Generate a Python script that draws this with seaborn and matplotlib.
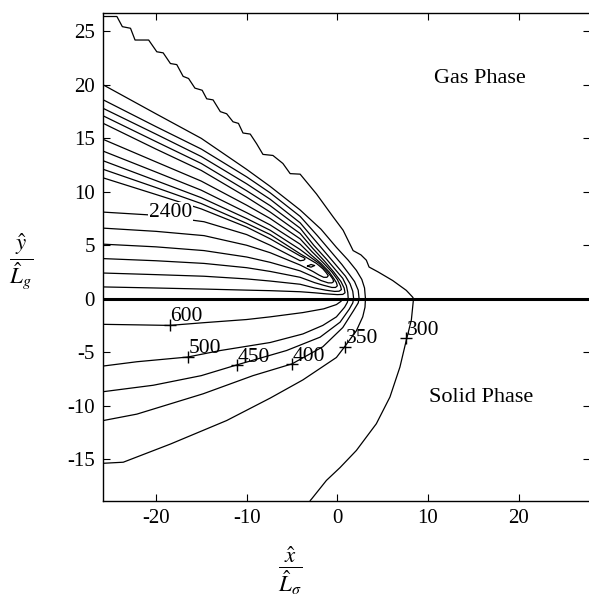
import matplotlib
matplotlib.use("Agg")
import matplotlib.pyplot as plt
import seaborn as sns

# ---------------- data ----------------
# gas-phase outer (300) contour, staircase shape
stair_x = [-25.8, -24.3, -23.7, -22.8, -22.3, -20.8, -19.9, -19.2, -18.4, -17.7, -17.0, -16.4,
           -15.7, -14.9, -14.4, -13.7, -12.9, -12.2, -11.5, -10.9, -10.4, -9.6, -8.9, -8.2,
           -7.1, -6.0, -5.2, -4.1, -2.3, -0.46, 0.64, 1.74, 2.6, 3.2, 3.5, 4.5, 6.1, 7.6, 8.3, 8.4]
stair_y = [26.4, 26.4, 25.45, 25.3, 24.2, 24.2, 23.1, 23.0, 22.0, 21.9, 20.8, 20.6,
           19.7, 19.5, 18.7, 18.6, 17.5, 17.3, 16.55, 16.4, 15.5, 15.4, 14.5, 13.5,
           13.4, 12.65, 11.7, 11.65, 9.8, 7.65, 6.4, 4.5, 4.1, 3.6, 2.96, 2.5, 1.7, 0.78, 0.15, 0.0]

# gas contours reaching the interface (upper branch only)
g20_x = [-25.8, -20.0, -15.0, -10.0, -7.4, -4.1, -1.8, -0.1, 1.2, 2.1, 2.7, 3.0, 3.1]
g20_y = [20.0, 17.3, 15.0, 12.1, 10.5, 8.3, 6.5, 4.8, 3.6, 2.65, 1.8, 1.0, 0.0]
g186_x = [-25.8, -20.0, -15.0, -10.0, -7.4, -4.1, -2.2, -0.7, 0.5, 1.3, 1.9, 2.3, 2.4]
g186_y = [18.6, 16.1, 14.0, 11.4, 9.9, 7.7, 5.9, 4.4, 3.2, 2.3, 1.6, 0.8, 0.0]
g178_x = [-25.8, -20.0, -15.0, -10.0, -7.4, -4.1, -2.4, -1.0, 0.1, 0.9, 1.4, 1.7, 1.8]
g178_y = [17.8, 15.4, 13.3, 10.75, 9.3, 7.1, 5.4, 4.0, 2.9, 2.1, 1.4, 0.7, 0.0]
g171_x = [-25.8, -20.0, -15.0, -10.0, -7.4, -4.1, -2.6, -1.2, -0.2, 0.6, 1.0, 1.15, 1.2]
g171_y = [17.1, 14.7, 12.65, 10.1, 8.7, 6.6, 5.0, 3.7, 2.7, 1.9, 1.2, 0.6, 0.0]

# gas U-shaped contours: upper branch -> tip -> lower branch
u6_x = [-25.8, -20.0, -15.0, -10.0, -7.4, -4.1, -2.7, -1.4, -0.4, 0.4, 0.75, 0.85, 0.6, 0.0, -1.2, -2.5, -4.1, -7.4, -10.0, -14.7, -20.0, -25.8]
u6_y = [16.4, 14.0, 12.0, 9.5, 8.1, 6.1, 4.7, 3.5, 2.5, 1.6, 1.0, 0.55, 0.4, 0.38, 0.45, 0.55, 0.65, 0.75, 0.8, 0.9, 1.0, 1.1]
u5_x = [-25.8, -20.0, -15.0, -10.0, -7.4, -4.1, -2.8, -1.6, -0.6, 0.0, 0.35, 0.45, 0.2, -0.3, -1.3, -2.5, -4.1, -7.4, -10.0, -14.7, -20.0, -25.8]
u5_y = [14.9, 12.8, 11.0, 8.75, 7.5, 5.6, 4.4, 3.4, 2.5, 1.8, 1.2, 0.85, 0.7, 0.68, 0.8, 1.0, 1.35, 1.65, 1.85, 2.1, 2.25, 2.4]
u4_x = [-25.8, -20.0, -15.0, -10.0, -7.4, -4.1, -2.9, -1.8, -0.9, -0.4, -0.1, 0.0, -0.2, -0.6, -1.5, -2.5, -4.1, -7.4, -10.0, -14.7, -20.0, -25.8]
u4_y = [13.8, 11.85, 10.15, 8.05, 6.9, 5.1, 4.1, 3.3, 2.5, 1.9, 1.5, 1.2, 1.05, 1.05, 1.25, 1.5, 2.0, 2.55, 2.9, 3.3, 3.55, 3.75]
u3_x = [-25.8, -20.0, -15.0, -10.0, -7.4, -4.1, -3.0, -2.0, -1.2, -0.8, -0.5, -0.4, -0.6, -1.0, -1.8, -2.5, -4.1, -7.4, -10.0, -14.7, -20.0, -25.8]
u3_y = [12.9, 11.05, 9.45, 7.5, 6.4, 4.6, 3.9, 3.3, 2.6, 2.2, 1.85, 1.6, 1.48, 1.48, 1.7, 2.0, 2.6, 3.4, 3.9, 4.5, 4.85, 5.1]
u2_x = [-25.8, -20.0, -15.0, -10.0, -7.4, -4.1, -3.1, -2.3, -1.6, -1.2, -1.0, -1.15, -1.5, -2.0, -2.7, -4.1, -7.4, -10.0, -14.7, -20.0, -25.8]
u2_y = [12.1, 10.4, 8.9, 7.05, 6.0, 4.2, 3.7, 3.3, 2.8, 2.4, 2.15, 2.0, 2.0, 2.2, 2.55, 3.15, 4.3, 5.0, 5.9, 6.3, 6.6]
u1_x = [-25.8, -20.0, -15.0, -10.0, -7.4, -4.1, -3.7, -3.55, -3.7, -4.1, -7.4, -10.0, -14.7, -20.0, -25.8]
u1_y = [11.3, 9.75, 8.4, 6.7, 5.6, 4.0, 3.85, 3.72, 3.6, 3.55, 5.0, 6.0, 7.2, 7.8, 8.1]
blob_x = [-3.3, -2.9, -2.5, -2.9, -3.3]
blob_y = [3.05, 3.2, 3.1, 2.95, 3.05]

# solid-phase contours
s600_x = [-25.8, -22.0, -18.5, -14.8, -10.0, -7.4, -3.8, -1.5, -0.1, 0.4, 0.6]
s600_y = [-2.4, -2.45, -2.5, -2.25, -1.95, -1.7, -1.3, -0.95, -0.55, -0.25, 0.0]
s500_x = [-25.8, -22.1, -16.5, -12.9, -7.4, -3.8, -1.6, -0.1, 0.8, 1.1, 1.2]
s500_y = [-6.3, -5.9, -5.46, -4.85, -4.1, -3.3, -2.5, -1.7, -0.8, -0.35, 0.0]
s450_x = [-25.8, -20.3, -15.0, -11.1, -5.6, -1.9, 0.3, 1.3, 1.7, 1.8]
s450_y = [-8.7, -8.1, -7.2, -6.2, -4.85, -3.6, -2.2, -1.0, -0.4, 0.0]
s400_x = [-25.8, -22.1, -14.8, -9.3, -5.0, -1.6, 0.6, 1.8, 2.3, 2.4]
s400_y = [-11.4, -10.8, -8.9, -7.2, -6.1, -4.5, -2.7, -1.1, -0.4, 0.0]
s350_x = [-25.8, -23.6, -18.4, -12.2, -7.4, -3.8, -0.1, 0.8, 2.1, 2.8, 3.05, 3.1]
s350_y = [-15.4, -15.3, -13.6, -11.4, -9.3, -7.6, -5.5, -4.5, -3.0, -1.7, -0.8, 0.0]
s300_x = [8.4, 8.16, 7.6, 6.9, 5.8, 4.3, 2.1, 0.3, -1.2, -2.8, -3.0]
s300_y = [0.0, -2.0, -3.9, -6.4, -9.2, -11.7, -14.2, -15.8, -17.0, -18.7, -18.9]

# contour labels
lab_text = ["600", "500", "450", "400", "350", "300"]
lab_px = [-18.5, -16.5, -11.1, -5.0, 0.8, 7.6]
lab_py = [-2.5, -5.46, -6.2, -6.1, -4.5, -3.7]
lab_tx = [-18.4, -16.4, -11.0, -4.9, 0.9, 7.7]
lab_ty = [-1.7, -4.7, -5.5, -5.4, -3.75, -2.97]

x_ticks = [-20, -10, 0, 10, 20]
y_ticks = [-15, -10, -5, 0, 5, 10, 15, 20, 25]

# ---------------- drawing ----------------
sns.set_theme(style="ticks")
plt.rcParams["font.family"] = ["Liberation Serif", "DejaVu Serif"]
plt.rcParams["mathtext.fontset"] = "stix"
plt.rcParams["axes.unicode_minus"] = False

fig = plt.figure(figsize=(5.89, 6.01), dpi=100)
ax = fig.add_axes([103.3 / 589, (601 - 500.7) / 601, (589.5 - 103.3) / 589, (500.7 - 13.3) / 601])

def draw(xs, ys, lw=0.9):
    sns.lineplot(x=xs, y=ys, sort=False, estimator=None, color="black",
                 linewidth=lw, ax=ax, legend=False)

for xs, ys in [(stair_x, stair_y), (g20_x, g20_y), (g186_x, g186_y), (g178_x, g178_y),
               (g171_x, g171_y), (u6_x, u6_y), (u5_x, u5_y), (u4_x, u4_y), (u3_x, u3_y),
               (u2_x, u2_y), (u1_x, u1_y), (blob_x, blob_y),
               (s600_x, s600_y), (s500_x, s500_y), (s450_x, s450_y), (s400_x, s400_y),
               (s350_x, s350_y), (s300_x, s300_y)]:
    draw(xs, ys)

# interface line
draw([-25.8, 27.8], [0, 0], lw=2.2)

sns.scatterplot(x=lab_px, y=lab_py, marker="+", s=70, color="black", linewidth=1.0,
                ax=ax, legend=False, zorder=5)
for t, tx, ty in zip(lab_text, lab_tx, lab_ty):
    ax.text(tx, ty, t, fontsize=15.5, ha="left", va="center", color="black")

ax.text(-18.4, 8.1, "2400", fontsize=15.5, ha="center", va="center", color="black",
        bbox=dict(facecolor="white", edgecolor="none", pad=0.5))
ax.text(15.7, 20.6, "Gas Phase", fontsize=16, ha="center", va="center", color="black")
ax.text(15.9, -9.2, "Solid Phase", fontsize=16, ha="center", va="center", color="black")

ax.set_xlim(-25.8, 27.8)
ax.set_ylim(-18.9, 26.7)
ax.set_xticks(x_ticks)
ax.set_yticks(y_ticks)
ax.set_xticklabels([str(v) for v in x_ticks])
ax.set_yticklabels([str(v) for v in y_ticks])
ax.tick_params(direction="in", top=True, right=True, length=5, width=0.8,
               labelsize=15, colors="black", pad=6)
for sp in ax.spines.values():
    sp.set_visible(True)
    sp.set_color("black")
    sp.set_linewidth(1.0)
ax.grid(False)

ax.set_xlabel(r"$\dfrac{\hat{x}}{\hat{L}_\sigma}$", fontsize=16.5, color="black")
ax.xaxis.set_label_coords(0.385, -0.143)
ax.set_ylabel(r"$\dfrac{\hat{y}}{\hat{L}_g}$", fontsize=16.5, color="black", rotation=0)
ax.yaxis.set_label_coords(-0.168, 0.49)
ax.yaxis.label.set_va("center")
ax.xaxis.label.set_va("center")

fig.savefig("out.png", dpi=100)
